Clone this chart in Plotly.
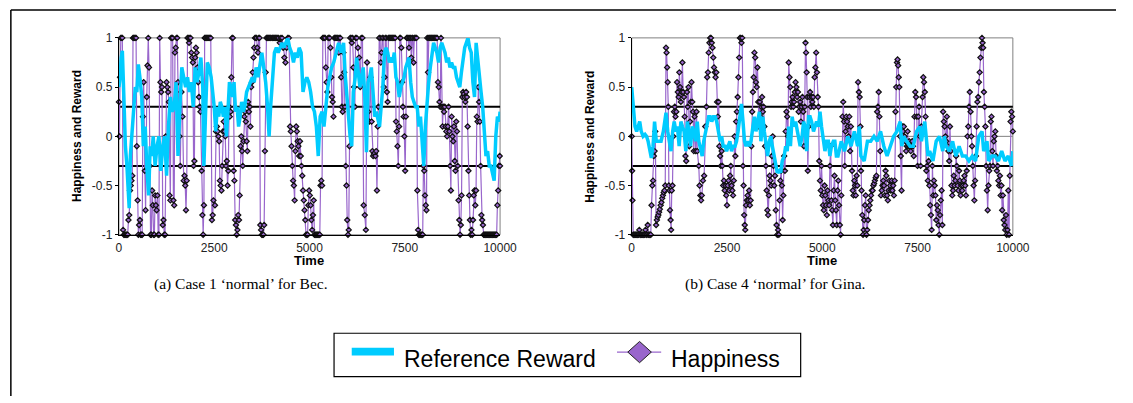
import plotly.graph_objects as go

W, H = 1133, 403

# ---------------- data ----------------
x_ticks = [0, 2500, 5000, 7500, 10000]
y_ticks = [-1, -0.5, 0, 0.5, 1]
y_tick_text = ["-1", "-0.5", "0", "0.5", "1"]
thresholds = [0.3, -0.3]
captions = ["(a) Case 1 \u2018normal\u2019 for Bec.", "(b) Case 4 \u2018normal\u2019 for Gina."]
series_names = ["Reference Reward", "Happiness"]
x_title = "Time"
y_title = "Happiness and Reward"

# (time, happiness) for Bec
bec_happiness = [
    (0,0.35),(15,0.0),(30,0.6),(50,1),(70,1),(90,1),(110,-0.95),(130,-1),(150,-1),(170,-1),(190,-1),(210,-1),(230,-1),(250,-0.85),(270,-0.8),(290,-0.55),(310,-0.5),(330,-0.45),(350,-0.4),(370,1),(390,1),(410,1),(430,1),(450,1),(470,-0.1),(490,-0.65),
    (510,-1),(530,-0.9),(550,-0.85),(570,-1),(590,-1),(610,-1),(630,0.2),(650,0.55),(680,-0.35),(700,-0.75),(730,0.4),(750,0.72),(770,1),(790,0.7),(810,-0.3),(830,-1),(850,-1),(870,-0.55),(890,-0.7),(910,-1),(930,-1),(950,-0.6),(970,-0.7),(990,-0.75),
    (1010,-0.6),(1030,-1),(1050,-1),(1070,1),(1090,0.55),(1110,0.45),(1130,0.5),(1150,-0.9),(1170,-0.85),(1190,-1),(1210,-1),(1230,0.0),(1250,0.55),(1270,0.5),(1290,0.45),(1310,0.35),(1330,-0.6),(1350,-0.65),(1370,1),(1390,1),(1410,1),(1430,-0.65),(1450,-0.7),(1470,0.85),(1490,0.9),
    (1510,1),(1530,1),(1550,0.55),(1570,0.3),(1590,0.0),(1610,-0.3),(1640,0.45),(1670,0.2),(1700,-0.45),(1720,-0.4),(1740,-0.5),(1760,-0.75),(1780,-0.45),(1800,1),(1820,1),(1840,0.95),(1860,1),(1880,1),(1900,0.85),(1920,0.8),(1940,0.75),(1960,-0.3),(1980,-0.25),
    (2000,0.8),(2020,0.9),(2040,0.85),(2060,0.7),(2080,0.55),(2100,0.4),(2120,0.3),(2140,0.25),(2170,-0.35),(2190,-0.8),(2210,-1),(2230,-0.7),(2250,1),(2270,1),(2290,1),(2310,1),(2330,1),(2350,1),(2370,1),(2390,1),(2410,1),(2440,-0.85),(2460,-0.8),(2480,-0.65),
    (2520,-0.7),(2550,0.05),(2570,0.1),(2590,0.05),(2610,0.0),(2630,-0.05),(2650,-0.45),(2670,-0.5),(2690,-0.55),(2710,-0.3),(2730,0.05),(2750,0.15),(2770,0.05),(2790,0.0),(2810,-0.3),(2830,-0.25),(2850,-0.5),(2870,-0.35),(2890,0.3),(2910,0.2),(2930,0.25),(2950,0.6),(2970,1),(2990,1),
    (3010,-0.35),(3030,-0.45),(3050,-0.85),(3070,-0.9),(3090,-1),(3110,-0.95),(3130,-0.8),(3150,-0.85),(3170,-0.6),(3190,-0.1),(3210,0.0),(3230,-0.15),(3250,-0.3),(3270,-0.05),(3290,0.2),(3310,0.25),(3330,0.15),(3350,-0.05),(3370,-0.15),(3390,0.35),(3410,0.25),(3430,0.3),(3450,0.1),(3470,0.5),(3490,0.55),
    (3510,0.65),(3530,0.8),(3550,0.9),(3570,1),(3590,1),(3610,1),(3630,0.9),(3650,0.85),(3670,1),(3690,1),(3710,-0.9),(3730,-0.95),(3750,-1),(3770,-1),(3790,-1),(3810,-0.9),(3830,-0.15),(3850,0.65),(3870,1),(3890,1),(3910,1),(3930,1),(3950,1),(3970,1),(3990,1),
    (4020,1),(4040,1),(4060,1),(4080,1),(4100,1),(4120,1),(4140,1),(4160,1),(4190,1),(4220,0.95),(4250,1),(4280,1),(4310,0.9),(4340,0.8),(4370,0.75),(4400,0.9),(4430,1),(4460,1),(4490,0.1),
    (4510,0.05),(4530,-0.1),(4550,-0.3),(4570,-0.45),(4590,-0.5),(4610,-0.65),(4630,-0.15),(4650,0.1),(4670,0.05),(4690,-0.05),(4710,-0.1),(4730,-0.2),(4750,-0.05),(4770,-0.2),(4790,-0.3),(4810,-0.4),(4830,-0.55),(4850,-0.65),(4870,-0.75),(4890,-0.85),(4910,-1),(4930,-1),(4950,-1),(4970,-0.7),(4990,-0.55),
    (5010,-0.6),(5030,-0.7),(5050,-0.85),(5070,-0.95),(5090,-0.8),(5110,-0.65),(5130,-1),(5150,-1),(5170,-1),(5190,-1),(5210,-1),(5230,-1),(5250,-1),(5270,-1),(5290,-0.5),(5310,-0.45),(5330,-0.5),(5350,1),(5370,1),(5390,1),(5410,1),(5430,0.7),(5450,0.55),(5470,0.45),(5490,1),
    (5510,1),(5530,1),(5550,0.9),(5570,0.6),(5590,0.4),(5610,0.35),(5630,0.2),(5650,1),(5670,1),(5690,1),(5710,1),(5730,1),(5750,1),(5770,0.85),(5790,1),(5810,1),(5830,0.6),(5850,0.3),(5870,0.25),(5890,0.85),(5910,0.65),(5930,0.3),(5950,-0.3),(5970,-0.5),(5990,-0.85),
    (6010,-1),(6030,-0.95),(6050,-0.1),(6070,1),(6090,1),(6110,0.95),(6130,1),(6150,0.7),(6170,0.5),(6190,0.3),(6210,1),(6240,1),(6270,0.9),(6300,0.8),(6330,0.5),(6360,1),(6390,1),(6420,-0.7),(6450,-0.8),(6480,-0.95),
    (6510,0.75),(6540,0.25),(6570,0.15),(6600,0.6),(6630,0.15),(6650,-0.15),(6670,-0.2),(6690,-0.18),(6710,-0.17),(6730,-0.2),(6750,-0.15),(6770,-0.55),(6790,0.1),(6810,0.3),(6830,1),(6850,1),(6870,0.75),(6890,0.85),(6910,1),(6930,1),(6950,0.5),(6970,0.6),(6990,1),
    (7010,1),(7030,0.45),(7050,0.35),(7070,1),(7090,1),(7110,1),(7130,1),(7150,1),(7170,1),(7190,1),
    (7210,1),(7230,1),(7250,1),(7270,0.15),(7290,0.05),(7310,-0.1),(7330,-0.3),(7350,0.1),(7370,1),(7390,1),(7410,0.9),(7430,0.55),(7450,0.3),(7470,0.2),(7490,0.0),(7510,-0.35),(7530,0.2),(7550,1),
    (7570,1),(7590,1),(7610,0.9),(7630,1),(7650,1),(7670,0.8),(7690,1),(7710,1),(7730,0.75),(7750,1),(7770,1),(7790,1),(7810,1),(7830,-0.55),(7850,-0.95),(7870,-1),(7890,-1),(7910,-1),(7930,-1),(7950,-1),(7970,-1),(7990,-0.3),
    (8010,-0.35),(8030,-0.6),(8050,-0.7),(8070,-0.75),(8090,1),(8110,0.65),(8130,1),(8150,1),(8170,1),(8190,1),(8210,1),(8230,1),(8250,1),(8270,1),(8290,1),(8310,1),(8330,1),(8350,1),(8370,0.55),(8390,0.5),(8410,0.35),(8430,0.3),(8450,1),(8470,0.3),(8490,0.1),
    (8510,0.3),(8530,0.25),(8550,0.3),(8570,0.1),(8590,0.05),(8610,0.0),(8630,0.1),(8650,0.3),(8670,0.05),(8690,-0.3),(8710,-0.55),(8730,0.2),(8750,0.0),(8770,-0.05),(8790,0.1),(8810,-0.25),(8830,-0.35),(8850,0.15),(8870,0.05),(8890,-0.3),(8910,-0.65),(8930,-0.85),(8950,-1),(8970,-0.9),(8990,-0.6),
    (9010,0.4),(9030,0.45),(9050,0.43),(9070,0.4),(9090,0.35),(9110,0.45),(9130,0.4),(9150,0.1),(9170,-0.35),(9190,-0.6),(9210,-0.85),(9230,-1),(9250,-0.95),(9270,-1),(9290,-0.85),(9310,-0.6),(9330,-0.55),(9350,-0.7),(9370,-0.55),(9390,0.2),(9410,0.15),(9430,0.5),(9450,0.35),(9470,0.15),(9490,-0.3),
    (9510,-0.8),(9530,-0.85),(9550,-0.9),(9570,-1),(9590,-1),(9610,-1),(9630,-1),(9650,-1),(9670,-1),(9690,-1),(9710,-1),(9730,-1),(9750,-1),(9770,-1),(9790,-1),(9810,-1),(9830,-1),(9850,-1),(9870,-1),(9890,-1),(9910,-1),(9930,-0.7),(9950,-0.55),(9970,-0.3),(9990,-0.2),(10000,-0.3),
]

# (time, reference reward) for Bec
bec_reward = [
    (0,0.5),(30,0.6),(60,0.8),(90,0.87),(130,0.4),(170,-0.1),(210,-0.3),(250,-0.55),(270,-0.73),(300,-0.2),(340,0.05),(390,0.3),(430,0.5),(470,0.45),(510,0.73),(550,0.6),(600,0.4),(640,-0.1),(690,0.1),(730,-0.3),(780,-0.6),(820,-0.1),(860,-0.2),(900,0.0),(950,-0.3),
    (1000,-0.1),(1050,0.0),(1100,-0.35),(1150,-0.1),(1200,0.0),(1250,-0.4),(1300,0.1),(1350,0.4),(1400,0.25),(1450,0.3),(1500,0.55),(1550,-0.2),(1600,0.3),(1650,0.7),(1700,0.6),(1750,0.5),(1800,0.6),(1850,0.45),(1900,0.55),(1950,0.3),
    (2000,0.7),(2050,0.55),(2100,0.65),(2150,0.8),(2200,0.5),(2230,-0.3),(2270,0.2),(2320,0.75),(2370,0.7),(2420,0.6),(2460,0.45),(2500,0.3),(2540,0.05),(2580,0.3),(2620,0.2),(2660,0.35),(2700,0.3),(2740,0.2),(2780,0.3),(2820,0.0),(2860,0.25),(2900,0.55),(2940,0.5),(2980,0.4),
    (3020,0.55),(3060,0.25),(3100,0.3),(3140,0.1),(3180,0.2),(3220,0.35),(3260,0.25),(3300,0.3),(3350,0.45),(3400,0.5),(3450,0.55),(3500,0.6),(3550,0.55),(3600,0.7),(3650,0.6),(3700,0.75),(3750,0.85),(3800,0.7),(3850,0.55),(3900,0.3),(3940,0.0),(3980,0.3),
    (4030,0.55),(4080,0.85),(4130,0.9),(4180,0.85),(4230,0.9),(4280,0.95),(4330,0.9),(4380,0.95),(4430,1.0),(4480,0.9),(4530,0.85),(4580,0.75),(4630,0.85),(4680,0.8),(4730,0.9),(4780,0.85),(4830,0.45),(4880,0.55),(4930,0.6),(4980,0.55),
    (5030,0.45),(5080,0.3),(5130,0.25),(5180,0.1),(5230,-0.2),(5280,0.2),(5330,0.25),(5380,0.1),(5430,0.3),(5480,0.5),(5530,0.6),(5580,0.7),(5636,0.75),(5700,0.85),(5765,0.95),(5830,0.85),(5894,0.95),(5936,0.63),(5980,0.4),
    (6022,0.2),(6065,0.0),(6108,-0.1),(6150,0.45),(6200,0.6),(6237,0.8),(6280,0.65),(6323,0.5),(6366,0.6),(6409,0.7),(6452,0.4),(6495,-0.16),(6538,0.55),(6580,0.6),(6623,0.7),(6666,0.45),(6710,0.2),(6752,0.25),(6795,0.15),(6838,0.1),(6880,0.3),(6924,0.5),(6967,0.85),
    (7010,0.9),(7053,0.85),(7096,0.75),(7139,0.8),(7182,0.75),(7225,0.85),(7268,0.6),(7311,0.55),(7354,0.4),(7397,0.5),(7440,0.55),(7483,0.6),(7526,0.7),(7569,0.75),(7612,0.8),(7655,0.55),(7698,0.4),(7740,0.35),(7783,0.3),(7826,0.3),(7870,0.1),(7912,0.2),(7955,0.0),(7998,-0.3),
    (8040,0.1),(8084,0.4),(8127,0.55),(8170,0.7),(8213,0.85),(8256,0.95),(8300,0.9),(8342,0.85),(8385,0.75),(8428,0.9),(8470,0.95),(8513,0.9),(8556,0.85),(8600,0.75),(8642,0.8),(8685,0.7),(8728,0.75),(8771,0.7),(8814,0.7),(8857,0.6),(8900,0.55),(8943,0.5),(8986,0.65),
    (9029,0.8),(9072,0.9),(9115,0.95),(9158,1.0),(9200,0.9),(9244,0.85),(9287,0.55),(9330,0.4),(9372,0.95),(9415,0.75),(9458,0.6),(9501,0.45),(9544,0.3),(9587,0.0),(9630,-0.2),(9673,-0.15),(9716,-0.3),(9759,-0.3),(9802,-0.4),(9845,-0.45),(9888,0.0),(9931,0.2),(9975,0.15),(10000,0.25),
]

# (time, happiness) for Gina
gina_happiness = [
    (0,0.0),(10,-0.35),(20,-0.65),(40,-1),(60,-1),(80,-1),(100,-1),(120,-1),(140,-1),(160,-1),(180,-1),(200,-0.95),(220,-1),(240,-1),(260,-1),(280,-1),(300,-1),(320,-1),(340,-1),(360,-0.95),(380,-1),(400,-1),(420,-0.9),(440,-1),(460,-1),(480,-1),(500,-1),
    (520,-0.7),(540,-0.5),(560,-0.45),(580,-0.2),(600,-0.15),(620,0.05),(640,-0.9),(660,-0.85),(680,-0.82),(700,-0.8),(720,-0.77),(740,-0.74),(760,-0.7),(780,-0.67),(800,-0.63),(820,-0.6),(840,-0.57),(860,-0.55),(880,-0.5),(900,0.9),(915,0.85),(930,0.7),(945,0.55),(960,0.3),(975,-0.5),(990,-0.55),
    (1005,-0.75),(1020,-0.85),(1035,-0.95),(1050,-0.55),(1070,-0.5),(1090,0.0),(1110,0.25),(1130,0.3),(1150,0.2),(1170,0.25),(1190,0.55),(1210,0.45),(1230,0.4),(1250,0.65),(1270,0.5),(1290,0.35),(1310,0.45),(1330,0.75),(1350,0.45),(1370,0.4),(1390,0.2),(1410,-0.2),(1430,-0.25),(1450,0.45),(1470,0.3),(1490,0.5),
    (1510,-0.1),(1530,0.15),(1550,0.35),(1570,0.55),(1590,0.35),(1610,0.25),(1630,-0.15),(1650,0.2),(1680,-0.15),(1700,0.25),(1720,-0.15),(1760,-0.3),(1780,-0.5),(1800,-0.6),(1820,-0.65),(1840,-0.6),(1870,-0.45),(1900,-0.4),(1930,0.1),(1960,0.3),(1980,0.6),
    (2000,0.65),(2020,0.85),(2040,0.95),(2060,1),(2080,1),(2100,0.95),(2120,0.9),(2140,0.8),(2160,0.7),(2180,0.65),(2200,0.6),(2220,0.65),(2240,0.35),(2260,0.2),(2280,0.35),(2300,-0.1),(2320,-0.2),(2340,-0.3),(2360,-0.15),(2380,-0.3),(2400,-0.5),(2420,-0.45),(2440,-0.55),(2460,-0.5),(2480,-0.6),
    (2500,-0.7),(2520,-0.5),(2540,-0.45),(2560,-0.55),(2580,-0.4),(2600,-0.3),(2620,-0.5),(2640,-0.55),(2660,-0.6),(2680,-0.45),(2700,0.0),(2720,-0.2),(2740,0.15),(2760,0.25),(2780,0.4),(2800,0.6),(2820,0.8),(2840,1),(2860,1),(2880,0.95),(2900,1),(2920,-0.3),(2935,-0.5),(2950,-0.8),(2965,-0.9),(2980,-0.95),
    (3000,-0.7),(3020,-0.65),(3040,-0.6),(3060,-0.65),(3080,-0.55),(3100,-0.7),(3120,-0.65),(3140,-0.1),(3160,0.25),(3180,0.45),(3200,0.6),(3220,0.85),(3240,0.8),(3260,0.55),(3280,0.5),(3300,0.7),(3320,0.35),(3340,0.1),(3360,0.35),(3380,0.2),(3400,0.3),(3420,0.4),(3440,0.25),(3460,0.3),(3480,0.1),
    (3500,-0.1),(3520,-0.3),(3540,-0.55),(3560,-0.75),(3580,-0.8),(3600,-0.6),(3620,-0.4),(3640,-0.45),(3660,-0.5),(3680,-0.2),(3700,0.0),(3720,-0.3),(3740,-0.5),(3760,-0.4),(3780,-0.75),(3800,-0.9),(3820,-1),(3840,-0.95),(3860,-1),(3880,-0.65),(3900,-0.45),(3920,-0.35),(3940,-0.5),(3960,-0.85),(3980,-0.6),
    (4000,-0.2),(4020,-0.35),(4040,0.05),(4060,0.25),(4080,0.2),(4100,0.0),(4120,0.75),(4140,0.6),(4160,0.5),(4180,0.3),(4200,0.35),(4220,0.4),(4240,0.3),(4260,0.35),(4280,0.45),(4300,0.55),(4320,0.5),(4340,0.4),(4360,0.45),(4380,0.25),(4400,0.3),(4420,0.35),(4440,0.15),(4460,0.3),(4480,0.4),
    (4500,0.25),(4520,-0.1),(4540,0.3),(4560,0.95),(4575,0.85),(4590,0.65),(4605,0.4),(4620,-0.35),(4640,0.1),(4660,0.4),(4680,0.45),(4700,0.3),(4720,0.4),(4740,0.35),(4760,0.4),(4780,0.3),(4800,0.6),(4820,0.7),(4840,0.85),(4860,0.65),(4880,0.4),(4900,0.3),(4920,-0.25),(4940,-0.45),(4960,-0.55),(4980,-0.3),
    (5000,-0.6),(5020,-0.7),(5040,-0.75),(5060,-0.5),(5080,-0.6),(5100,-0.7),(5120,-0.8),(5140,-0.55),(5160,-0.65),(5180,-0.7),(5200,-0.3),(5220,-0.1),(5240,-0.65),(5260,-0.75),(5280,-0.9),(5300,-0.55),(5320,-0.4),(5340,-0.65),(5360,-0.75),(5380,-0.9),(5400,-0.55),(5420,-0.45),(5440,-0.7),(5460,-0.9),(5480,-1),
    (5500,-0.6),(5530,0.2),(5550,0.35),(5570,0.15),(5590,-0.3),(5610,0.05),(5630,0.2),(5650,0.15),(5670,0.1),(5690,0.0),(5710,0.2),(5730,-0.15),(5750,0.1),(5780,-0.35),(5800,-0.55),(5820,-0.6),(5840,-0.45),(5860,-0.5),(5880,-0.6),(5900,-0.4),(5920,-0.5),(5940,0.55),(5960,0.45),(5980,0.4),
    (6000,0.1),(6015,-0.35),(6030,-0.55),(6050,-0.8),(6070,-1),(6085,-0.95),(6100,-0.85),(6120,-0.7),(6140,-0.6),(6160,-1),(6180,-0.95),(6200,-0.85),(6220,-0.75),(6240,-0.7),(6260,-0.65),(6280,-0.6),(6300,-0.55),(6320,-0.55),(6340,-0.5),(6360,-0.48),(6380,-0.45),(6400,-0.42),(6420,-0.4),(6440,0.25),(6460,0.3),(6480,0.45),
    (6500,0.2),(6520,-0.15),(6540,-0.6),(6560,-0.55),(6580,-0.5),(6600,-0.45),(6620,-0.5),(6640,-0.6),(6660,-0.35),(6680,-0.4),(6700,-0.6),(6720,-0.65),(6740,-0.55),(6760,-0.45),(6780,-0.5),(6800,-0.55),(6820,-0.45),(6840,-0.55),(6860,-0.5),(6880,-0.6),(6900,-0.45),(6920,0.25),(6940,0.5),(6960,0.75),(6975,0.78),(6990,0.72),
    (7005,0.6),(7020,0.5),(7040,0.0),(7060,-0.2),(7080,-0.55),(7100,0.1),(7120,0.05),(7140,0.1),(7160,0.0),(7180,-0.05),(7200,-0.15),(7220,-0.1),(7240,0.05),(7260,-0.1),(7280,-0.05),(7300,-0.1),(7320,-0.15),(7340,-0.1),(7360,-0.05),(7380,-0.1),(7400,-0.2),(7420,0.2),(7440,0.45),(7460,0.4),(7480,0.2),
    (7500,-0.3),(7520,0.2),(7540,0.3),(7560,0.0),(7580,-0.3),(7600,0.1),(7630,0.4),(7650,0.6),(7670,0.55),(7690,0.45),(7710,0.2),(7730,-0.35),(7750,-0.3),(7770,-0.45),(7790,-0.25),(7810,-0.5),(7830,-0.7),(7850,-0.8),(7870,-0.95),(7890,-0.3),(7910,-0.6),(7930,-0.45),(7950,-0.5),(7970,-0.6),(7990,-0.85),
    (8010,-0.7),(8030,-0.75),(8050,-0.9),(8070,-1),(8090,-0.8),(8110,-0.65),(8130,-0.55),(8150,-0.9),(8170,0.25),(8190,0.15),(8210,0.1),(8230,0.0),(8250,-0.05),(8270,0.2),(8290,-0.1),(8310,-0.15),(8330,-0.25),(8350,0.1),(8370,-0.15),(8390,-0.5),(8410,-0.6),(8430,-0.55),(8450,-0.4),(8470,-0.5),(8490,-0.45),
    (8510,-0.2),(8530,-0.3),(8550,-0.5),(8570,-0.55),(8590,-0.35),(8610,-0.45),(8630,-0.6),(8650,-0.5),(8670,-0.55),(8690,-0.5),(8710,-0.45),(8730,-0.4),(8750,-0.5),(8770,-0.6),(8790,-0.35),(8810,0.0),(8830,0.1),(8850,0.3),(8870,0.45),(8890,0.25),(8910,0.0),(8930,-0.1),(8950,-0.3),(8970,-0.5),(8990,-0.65),
    (9010,-0.45),(9030,-0.2),(9050,0.1),(9070,0.35),(9090,0.4),(9110,0.55),(9130,0.65),(9150,0.8),(9170,0.9),(9190,1),(9205,0.95),(9220,0.9),(9240,0.45),(9260,0.3),(9280,0.1),(9300,-0.3),(9320,-0.55),(9340,-0.75),(9360,-0.5),(9380,-0.35),(9400,-0.3),(9420,0.15),(9440,0.2),(9460,-0.15),(9480,-0.3),
    (9500,-0.05),(9520,0.0),(9540,0.05),(9560,-0.2),(9580,-0.35),(9600,-0.3),(9620,-0.45),(9640,-0.5),(9660,-0.4),(9680,-0.6),(9700,-0.5),(9720,-0.75),(9740,-0.6),(9760,-0.85),(9780,-0.9),(9800,-0.95),(9820,-0.8),(9840,-1),(9860,-0.95),(9880,-0.55),(9900,-1),(9920,-0.4),(9940,0.15),(9960,0.25),(9980,0.2),(10000,0.05),
]

# (time, reference reward) for Gina
gina_reward = [
    (0,0.5),(40,0.35),(86,0.1),(130,0.05),(172,0.1),(210,0.15),(250,0.05),(300,0.0),(350,0.02),(390,0.0),(430,-0.05),(480,-0.15),(515,-0.22),(560,-0.1),(600,0.15),(645,-0.05),(700,-0.05),(770,-0.05),(830,0.05),(900,0.24),(945,0.05),(990,-0.05),
    (1030,-0.15),(1075,0.05),(1115,0.15),(1160,0.05),(1200,0.1),(1245,-0.1),(1290,0.15),(1330,0.1),(1375,0.05),(1420,-0.15),(1460,0.15),(1500,0.05),(1545,-0.1),(1590,0.1),(1630,0.05),(1675,-0.05),(1720,0.15),(1760,-0.05),(1810,-0.15),(1850,-0.2),(1890,-0.05),(1935,0.05),(1975,0.15),
    (2020,0.2),(2060,0.2),(2100,0.15),(2145,0.2),(2190,0.2),(2230,0.15),(2270,0.05),(2320,-0.05),(2360,0.0),(2400,-0.1),(2450,-0.1),(2490,-0.15),(2530,-0.1),(2575,-0.05),(2620,-0.15),(2660,-0.1),(2710,-0.1),(2750,-0.05),(2790,0.05),(2830,0.2),(2880,0.33),(2920,0.15),(2960,-0.05),
    (3000,-0.1),(3050,-0.05),(3090,-0.1),(3130,-0.05),(3180,0.1),(3220,0.2),(3260,0.05),(3300,0.15),(3350,0.25),(3390,-0.05),(3440,0.2),(3480,0.05),(3520,-0.1),(3565,-0.2),(3610,-0.05),(3650,0.0),(3690,-0.1),(3740,-0.2),(3780,-0.3),(3820,-0.37),(3870,-0.35),(3910,-0.37),(3950,-0.25),
    (4000,-0.2),(4040,-0.1),(4080,-0.15),(4120,0.1),(4165,-0.1),(4210,0.2),(4250,0.1),(4300,0.15),(4340,0.05),(4380,0.0),(4420,-0.1),(4470,0.0),(4510,0.15),(4550,0.1),(4590,-0.15),(4640,0.2),(4680,0.2),(4720,0.15),(4770,0.05),(4810,0.1),(4850,0.15),(4900,0.1),(4940,0.25),(4980,0.1),
    (5030,-0.05),(5070,-0.15),(5110,-0.05),(5160,-0.05),(5200,-0.2),(5240,-0.1),(5290,-0.05),(5330,-0.05),(5370,-0.2),(5412,-0.2),(5498,-0.05),(5584,-0.15),(5670,0.0),(5756,-0.1),(5842,0.05),(5927,-0.1),(5970,0.1),
    (6013,-0.2),(6100,-0.25),(6185,-0.05),(6271,-0.05),(6357,0.0),(6443,-0.05),(6529,0.05),(6615,-0.1),(6700,-0.2),(6786,-0.1),(6872,0.0),(6958,0.05),(7044,0.15),(7087,-0.1),(7130,0.0),(7216,-0.05),(7302,-0.1),(7388,-0.1),(7474,0.05),(7560,0.1),(7602,-0.05),(7688,0.15),(7731,0.0),(7774,-0.2),(7817,-0.15),(7903,-0.25),(7989,-0.05),
    (8075,0.0),(8161,-0.15),(8204,0.0),(8247,-0.1),(8333,-0.15),(8419,-0.05),(8505,-0.2),(8590,-0.1),(8676,-0.2),(8762,-0.2),(8848,-0.25),(8934,-0.2),(9020,-0.25),(9106,0.0),(9192,0.05),(9235,-0.15),(9321,-0.05),(9364,-0.25),(9450,-0.2),(9535,-0.2),(9621,-0.25),(9707,-0.15),(9793,-0.25),(9879,-0.2),(9965,-0.3),(10000,-0.15),
]

# ---------------- styling ----------------
PURPLE = "#9966CC"
CYAN = "#00CCFF"
SANS = "Liberation Sans, Arial, sans-serif"
SERIF = "Liberation Serif, Times New Roman, serif"


def px(x):
    return x / W


def py(y):
    return 1 - y / H


panels = [
    dict(hap=bec_happiness, rew=bec_reward, xa="x", ya="y", left=118, right=506, cap=captions[0]),
    dict(hap=gina_happiness, rew=gina_reward, xa="x2", ya="y2", left=640, right=1028, cap=captions[1]),
]
PLOT_TOP, PLOT_BOTTOM = 32, 236

fig = go.Figure()
shapes = []
annotations = []
layout_axes = {}

for i, p in enumerate(panels):
    fig.add_trace(go.Scatter(
        x=[t for t, _ in p["hap"]], y=[v for _, v in p["hap"]],
        mode="lines+markers", name=series_names[1],
        line=dict(color=PURPLE, width=1.2),
        marker=dict(symbol="diamond", size=4, color=PURPLE, line=dict(color="#101010", width=1.2)),
        xaxis=p["xa"], yaxis=p["ya"], cliponaxis=False, showlegend=False,
    ))
    fig.add_trace(go.Scatter(
        x=[t for t, _ in p["rew"]], y=[v for _, v in p["rew"]],
        mode="lines", name=series_names[0],
        line=dict(color=CYAN, width=3.5),
        xaxis=p["xa"], yaxis=p["ya"], cliponaxis=False, showlegend=False,
    ))

    sfx = "" if i == 0 else "2"
    layout_axes["xaxis" + sfx] = dict(
        domain=[px(p["left"]), px(p["right"])], anchor="y" + sfx,
        range=[0, 10000], tickvals=x_ticks, ticktext=[str(v) for v in x_ticks],
        showline=True, linecolor="black", linewidth=1, ticks="", showgrid=False, zeroline=False,
        tickfont=dict(family=SANS, size=12, color="#222"), ticklabelstandoff=2, fixedrange=True,
    )
    layout_axes["yaxis" + sfx] = dict(
        domain=[py(PLOT_BOTTOM), py(PLOT_TOP)], anchor="x" + sfx,
        range=[-1, 1], tickvals=y_ticks, ticktext=y_tick_text,
        showline=True, linecolor="black", linewidth=1, ticks="outside", ticklen=3, tickcolor="black",
        showgrid=False, zeroline=False,
        tickfont=dict(family=SANS, size=12, color="#222"), fixedrange=True,
    )

    xd, yd = p["xa"] + " domain", p["ya"] + " domain"
    shapes.append(dict(type="rect", xref=xd, yref=yd, x0=0, x1=1, y0=0, y1=1,
                       line=dict(color="#808080", width=1), layer="below"))
    shapes.append(dict(type="line", xref=xd, yref=p["ya"], x0=0, x1=1, y0=0, y1=0,
                       line=dict(color="#808080", width=1), layer="below"))
    for th in thresholds:
        shapes.append(dict(type="line", xref=xd, yref=p["ya"], x0=0, x1=1, y0=th, y1=th,
                           line=dict(color="black", width=2), layer="below"))

    cx = (p["left"] + p["right"]) / 2
    annotations.append(dict(text="<b>" + x_title + "</b>", x=px(cx), y=py(263), xref="paper", yref="paper",
                            showarrow=False, font=dict(family=SANS, size=13, color="black"),
                            xanchor="center", yanchor="middle"))
    annotations.append(dict(text="<b>" + y_title + "</b>", x=px(p["left"] - 42), y=py((PLOT_TOP + PLOT_BOTTOM) / 2),
                            xref="paper", yref="paper", showarrow=False, textangle=-90,
                            font=dict(family=SANS, size=12, color="black"),
                            xanchor="center", yanchor="middle"))

annotations.append(dict(text=captions[0], x=px(242), y=py(287), xref="paper", yref="paper", showarrow=False,
                        font=dict(family=SERIF, size=15.5, color="black"), xanchor="center", yanchor="middle"))
annotations.append(dict(text=captions[1], x=px(786), y=py(287), xref="paper", yref="paper", showarrow=False,
                        font=dict(family=SERIF, size=15.5, color="black"), xanchor="center", yanchor="middle"))

# legend (drawn manually)
shapes.append(dict(type="rect", xref="paper", yref="paper", x0=px(337), x1=px(812), y0=py(383), y1=py(338),
                   line=dict(color="black", width=1.2), fillcolor="white"))
shapes.append(dict(type="rect", xref="paper", yref="paper", x0=px(355), x1=px(398), y0=py(361), y1=py(353),
                   line=dict(width=0), fillcolor=CYAN))
annotations.append(dict(text=series_names[0], x=px(406), y=py(365), xref="paper", yref="paper", showarrow=False,
                        font=dict(family=SANS, size=23, color="black"), xanchor="left", yanchor="middle"))
shapes.append(dict(type="line", xref="paper", yref="paper", x0=px(625), x1=px(670), y0=py(357.5), y1=py(357.5),
                   line=dict(color=PURPLE, width=1.2)))
dpath = "M {a},{b} L {c},{d} L {e},{b} L {c},{f} Z".format(
    a=px(636), b=py(357.5), c=px(648), d=py(346.5), e=px(660), f=py(368.5))
shapes.append(dict(type="path", xref="paper", yref="paper", path=dpath,
                   fillcolor=PURPLE, line=dict(color="#222", width=1)))
annotations.append(dict(text=series_names[1], x=px(678), y=py(365), xref="paper", yref="paper", showarrow=False,
                        font=dict(family=SANS, size=23, color="black"), xanchor="left", yanchor="middle"))

# outer frame (top and left edges)
shapes.append(dict(type="line", xref="paper", yref="paper", x0=px(8), x1=1, y0=py(3), y1=py(3),
                   line=dict(color="black", width=1.5)))
shapes.append(dict(type="line", xref="paper", yref="paper", x0=px(8), x1=px(8), y0=py(3), y1=0,
                   line=dict(color="black", width=1.5)))

fig.update_layout(
    width=W, height=H, margin=dict(l=0, r=0, t=0, b=0),
    paper_bgcolor="white", plot_bgcolor="white",
    shapes=shapes, annotations=annotations, showlegend=False,
    **layout_axes,
)

fig.write_html("out.html", config={"displayModeBar": False},
               post_script="document.body.style.margin='0';document.body.style.overflow='hidden';")
